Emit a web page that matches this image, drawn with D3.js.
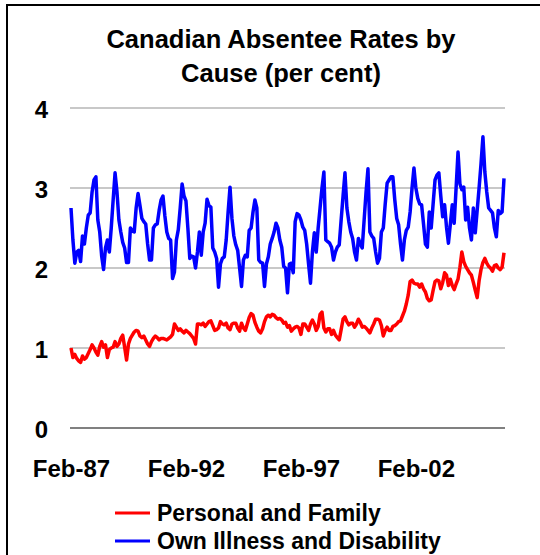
<!DOCTYPE html>
<html>
<head>
  <meta charset="utf-8">
  <title>Canadian Absentee Rates by Cause</title>
  <script src="https://cdn.jsdelivr.net/npm/d3@7"></script>
  <style>
    body{
      margin:0;
      background:#fff;
      font-family:"Liberation Sans", Arial, sans-serif;
      font-weight:bold;
    }
  </style>
</head>
<body>
<div id="container"></div>
<script>
  // monthly categories, Feb-87 .. Dec-05
  var months = d3.timeMonths(new Date(1987,1,1), new Date(2006,0,1)).map(d3.timeFormat("%b-%y"));
  var xTicks = ["Feb-87","Feb-92","Feb-97","Feb-02"];
  var yTicks = [0,1,2,3,4];

  // Personal and Family (red)
  var personalFamily = [
    1.0, 0.88, 0.92, 0.87, 0.84, 0.82, 0.9, 0.86, 0.88, 0.93, 0.98,
    1.04, 1.0, 0.95, 0.91, 1.02, 1.08, 1.01, 1.04, 0.88, 0.98, 1.0, 1.01,
    1.08, 1.02, 1.05, 1.12, 1.16, 1.01, 0.85, 1.05, 1.12, 1.16, 1.2, 1.22,
    1.21, 1.15, 1.13, 1.15, 1.1, 1.05, 1.02, 1.08, 1.12, 1.15, 1.13, 1.1,
    1.12, 1.12, 1.11, 1.1, 1.12, 1.14, 1.17, 1.3, 1.26, 1.22, 1.24, 1.21,
    1.19, 1.22, 1.2, 1.18, 1.15, 1.12, 1.05, 1.3, 1.3, 1.29, 1.31, 1.27,
    1.3, 1.33, 1.34, 1.28, 1.22, 1.23, 1.25, 1.33, 1.3, 1.29, 1.31, 1.25,
    1.23, 1.3, 1.31, 1.31, 1.25, 1.21, 1.31, 1.25, 1.22, 1.3, 1.38, 1.43,
    1.41, 1.32, 1.26, 1.21, 1.19, 1.24, 1.33, 1.39, 1.41, 1.39, 1.42, 1.41,
    1.38, 1.36, 1.37, 1.35, 1.31, 1.32, 1.26, 1.28, 1.21, 1.24, 1.26, 1.27,
    1.25, 1.17, 1.3, 1.3, 1.26, 1.22, 1.3, 1.35, 1.3, 1.22, 1.27, 1.42,
    1.45, 1.25, 1.2, 1.24, 1.24, 1.17, 1.22, 1.16, 1.13, 1.1, 1.23, 1.36,
    1.39, 1.33, 1.29, 1.31, 1.31, 1.26, 1.3, 1.36, 1.32, 1.26, 1.27, 1.25,
    1.22, 1.19, 1.25, 1.3, 1.36, 1.36, 1.35, 1.28, 1.15, 1.22, 1.26, 1.22,
    1.22, 1.27, 1.28, 1.3, 1.33, 1.34, 1.4, 1.46, 1.55, 1.66, 1.83, 1.85,
    1.81, 1.8, 1.8, 1.76, 1.8, 1.74, 1.7, 1.62, 1.59, 1.6, 1.72, 1.83,
    1.85, 1.84, 1.74, 1.82, 1.94, 1.91, 1.78, 1.86, 1.78, 1.73, 1.8, 1.86,
    2.01, 2.2, 2.08, 2.02, 1.98, 1.94, 1.91, 1.82, 1.72, 1.63, 1.84, 1.98,
    2.07, 2.12, 2.06, 2.02, 2.0, 1.96, 2.03, 2.04, 2.0, 1.98, 2.01, 2.19
  ];

  // Own Illness and Disability (blue)
  var ownIllness = [
    2.75, 2.35, 2.06, 2.2, 2.22, 2.08, 2.4, 2.3, 2.5, 2.66, 2.69,
    2.95, 3.1, 3.14, 2.6, 2.45, 2.15, 1.98, 2.25, 2.35, 2.2, 2.5, 2.85,
    3.19, 2.95, 2.6, 2.45, 2.32, 2.25, 2.07, 2.07, 2.5, 2.46, 2.45, 2.75,
    2.93, 2.78, 2.62, 2.58, 2.55, 2.3, 2.1, 2.1, 2.5, 2.54, 2.55, 2.72,
    2.85, 2.9, 2.65, 2.45, 2.37, 2.35, 1.87, 1.95, 2.35, 2.48, 2.75, 3.05,
    2.9, 2.84, 2.5, 2.12, 2.15, 2.14, 2.0, 2.2, 2.45, 2.16, 2.45, 2.56,
    2.86, 2.78, 2.76, 2.25, 2.2, 2.12, 1.76, 2.05, 2.12, 2.14, 2.35, 2.7,
    3.01, 2.62, 2.4, 2.29, 2.22, 2.0, 1.77, 2.1, 2.16, 2.14, 2.47, 2.5,
    2.7, 2.85, 2.75, 2.1, 2.07, 2.06, 1.77, 2.05, 2.14, 2.3, 2.37, 2.45,
    2.56, 2.5, 2.35, 2.26, 2.02, 2.0, 1.69, 2.05, 2.06, 1.94, 2.58, 2.68,
    2.66, 2.6, 2.51, 2.47, 2.3, 2.05, 1.81, 2.2, 2.44, 2.2, 2.5, 2.75,
    3.0, 3.2, 2.35, 2.33, 2.31, 2.26, 2.1, 2.2, 2.26, 2.29, 2.6, 2.9,
    3.19, 2.75, 2.58, 2.45, 2.37, 2.2, 2.1, 2.37, 2.3, 2.25, 2.6, 2.95,
    3.24, 2.45, 2.4, 2.37, 2.2, 2.06, 2.12, 2.45, 2.5, 2.8, 3.06, 3.1,
    3.14, 3.14, 2.85, 2.62, 2.54, 2.3, 2.1, 2.35, 2.47, 2.51, 2.7, 3.0,
    3.25, 3.0, 2.87, 2.8, 2.79, 2.55, 2.3, 2.26, 2.7, 2.5, 2.8, 3.1,
    3.16, 3.19, 2.9, 2.64, 2.79, 2.51, 2.31, 2.55, 2.79, 2.56, 3.0, 3.45,
    3.05, 2.98, 3.01, 2.6, 2.76, 2.5, 2.35, 2.75, 2.44, 2.72, 3.0, 3.3,
    3.64, 3.2, 2.95, 2.75, 2.72, 2.69, 2.5, 2.39, 2.72, 2.68, 2.7, 3.12
  ];

  var seriesNames = ["Personal and Family","Own Illness and Disability"];
  var seriesColors = ["#ff0000","#0000ff"];

  var width = 540, height = 555;
  var plot = {left: 70, right: 505, top: 108, bottom: 428};

  var svg = d3.select("#container").append("svg")
      .attr("width", width)
      .attr("height", height);

  // chart frame
  svg.append("rect")
      .attr("x", 7).attr("y", 5)
      .attr("width", 545).attr("height", 570)
      .attr("fill", "#fff")
      .attr("stroke", "#000")
      .attr("stroke-width", 2);

  var xScale = d3.scalePoint().domain(months).range([71, 504]);
  var yScale = d3.scaleLinear().domain([0,4]).range([plot.bottom, plot.top]);

  // gridlines
  svg.append("g").selectAll("line")
      .data(yTicks)
      .enter().append("line")
      .attr("x1", plot.left).attr("x2", plot.right)
      .attr("y1", d => yScale(d)).attr("y2", d => yScale(d))
      .attr("stroke", d => d == 0 ? "#808080" : "#c8c8c8")
      .attr("stroke-width", 2);

  var yAxis = d3.axisLeft(yScale).tickValues(yTicks).tickFormat(d3.format("d")).tickSize(0).tickPadding(0);
  var yG = svg.append("g")
      .attr("transform", "translate(48,2)")
      .call(yAxis);
  yG.select(".domain").remove();
  yG.selectAll("text")
      .style("font-family", "'Liberation Sans', Arial, sans-serif")
      .style("font-weight", "bold")
      .style("font-size", "24px")
      .attr("fill", "#000");

  var xAxis = d3.axisBottom(xScale).tickValues(xTicks).tickSize(0).tickPadding(0);
  var xG = svg.append("g")
      .attr("transform", "translate(0,460)")
      .call(xAxis);
  xG.select(".domain").remove();
  xG.selectAll("text")
      .style("font-family", "'Liberation Sans', Arial, sans-serif")
      .style("font-weight", "bold")
      .style("font-size", "24px")
      .attr("fill", "#000");

  var line = d3.line()
    .x((d,i) => xScale(months[i]))
    .y(d => yScale(d));

  [ownIllness, personalFamily].forEach(function(s){
    svg.append("path")
      .datum(s)
      .attr("d", line)
      .attr("fill", "none")
      .attr("stroke", s === ownIllness ? seriesColors[1] : seriesColors[0])
      .attr("stroke-width", 3.5)
      .attr("stroke-linejoin", "round");
  });

  // title
  svg.append("text")
      .attr("x", 281).attr("y", 48)
      .attr("text-anchor", "middle")
      .style("font-size", "25.5px")
      .text("Canadian Absentee Rates by");
  svg.append("text")
      .attr("x", 281).attr("y", 82)
      .attr("text-anchor", "middle")
      .style("font-size", "25.5px")
      .text("Cause (per cent)");

  // legend
  var leg = svg.append("g").selectAll("g")
      .data(seriesNames)
      .enter().append("g")
      .attr("transform", (d,i) => "translate(0," + (513 + i*28) + ")");
  leg.append("line")
      .attr("x1", 115).attr("x2", 150)
      .attr("stroke", (d,i) => seriesColors[i])
      .attr("stroke-width", 3);
  leg.append("text")
      .attr("x", 157).attr("y", 8)
      .style("font-size", "23px")
      .text(d => d);
</script>
</body>
</html>
